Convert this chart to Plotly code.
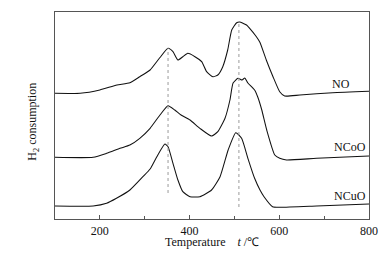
import plotly.graph_objects as go

# Temperature (°C) and H2 consumption (a.u., offset stacked)
no_T = [100, 156, 200, 238, 267, 289, 312, 334, 352, 363, 374, 385, 396, 412, 427, 438, 452, 463, 474, 485,
        494, 505, 512, 519, 527, 534, 549, 557, 571, 586, 601, 612, 646, 719, 800]
no_v = [125.7, 125.7, 129, 134, 136.3, 142.3, 149, 161.5, 170.7, 167.3, 159, 162.3, 165.7, 162.3, 157.3, 147.3,
        142.3, 144, 152.3, 169, 189, 196.3, 197, 195.7, 194, 190.7, 182.3, 176.5, 159, 142.3, 127.3, 123, 124,
        126.3, 127.7]

nco_T = [100, 185, 215, 245, 267, 289, 312, 334, 352, 367, 381, 401, 423, 449, 463, 479, 490, 497, 508, 517,
         523, 530, 545, 552, 561, 572, 590, 601, 616, 683, 800]
nco_v = [61.7, 61.7, 65.7, 70.7, 74, 80.7, 90.7, 104, 113.3, 109, 104, 99, 90.7, 83, 87.3, 100.7, 119, 136,
         140.7, 139, 141, 136, 129, 122, 109, 89, 64, 60.7, 59, 60.7, 63]

ncu_T = [100, 185, 215, 237, 267, 296, 312, 327, 345, 352, 363, 374, 385, 401, 423, 449, 468, 486, 503, 516,
         530, 545, 557, 566, 585, 601, 683, 800]
ncu_v = [13, 13, 15.7, 20.7, 29, 42.3, 50, 62.3, 75, 72.3, 55.7, 39, 27.3, 22.3, 22.3, 29, 42.3, 69, 86.3,
         80.7, 60.7, 40.7, 29, 22.3, 12.3, 11.7, 13, 15]

series_names = ["NO", "NCoO", "NCuO"]
label_T = [738, 757, 757]
label_v = [135, 72.3, 23]

vline_T = [352, 510]
vline_lo = [26, 12]
vline_hi = [171, 197]

x_ticks = [200, 400, 600, 800]

FONT = "Liberation Serif"
fig = go.Figure()
for T, v in [(no_T, no_v), (nco_T, nco_v), (ncu_T, ncu_v)]:
    fig.add_trace(go.Scatter(x=T, y=v, mode="lines",
                             line=dict(color="#111111", width=1.05, shape="spline", smoothing=0.5),
                             showlegend=False, hoverinfo="skip"))

for xv, lo, hi in zip(vline_T, vline_lo, vline_hi):
    fig.add_shape(type="line", x0=xv, x1=xv, y0=lo, y1=hi, xref="x", yref="y",
                  line=dict(color="#9a9a9a", width=1, dash="dot"))

for name, lt, lv in zip(series_names, label_T, label_v):
    fig.add_annotation(x=lt, y=lv, text=name, showarrow=False, xanchor="center", yanchor="middle",
                       font=dict(family=FONT, size=12, color="#111111"))

fig.add_annotation(x=0.5, y=0, xref="paper", yref="paper", yshift=-23, showarrow=False,
                   text="Temperature&nbsp;&nbsp;&nbsp;&nbsp;<i>t</i> /℃", yanchor="middle",
                   font=dict(family=FONT, size=12, color="#111111"))
fig.add_annotation(x=0, y=0.47, xref="paper", yref="paper", xshift=-22, showarrow=False,
                   text="H<sub>2</sub> consumption", textangle=-90, xanchor="center", yanchor="middle",
                   font=dict(family=FONT, size=12, color="#111111"))

fig.update_layout(
    width=389, height=257,
    margin=dict(l=55, r=20, t=12, b=38),
    paper_bgcolor="white", plot_bgcolor="white",
    xaxis=dict(range=[100, 800], tickvals=x_ticks, ticks="inside", ticklen=4, tickcolor="#555555",
               showline=True, linecolor="#555555", linewidth=1, mirror=True, showgrid=False, zeroline=False,
               tickfont=dict(family=FONT, size=12, color="#111111"), ticklabelstandoff=1,
               minor=dict(tickvals=[300, 500, 700], ticks="inside", ticklen=3, tickcolor="#555555")),
    yaxis=dict(range=[0, 207], showticklabels=False, ticks="", showline=True, linecolor="#555555",
               linewidth=1, mirror=True, showgrid=False, zeroline=False),
)
fig.write_html("out.html", config={"displayModeBar": False},
               post_script="document.body.style.margin='0';")
